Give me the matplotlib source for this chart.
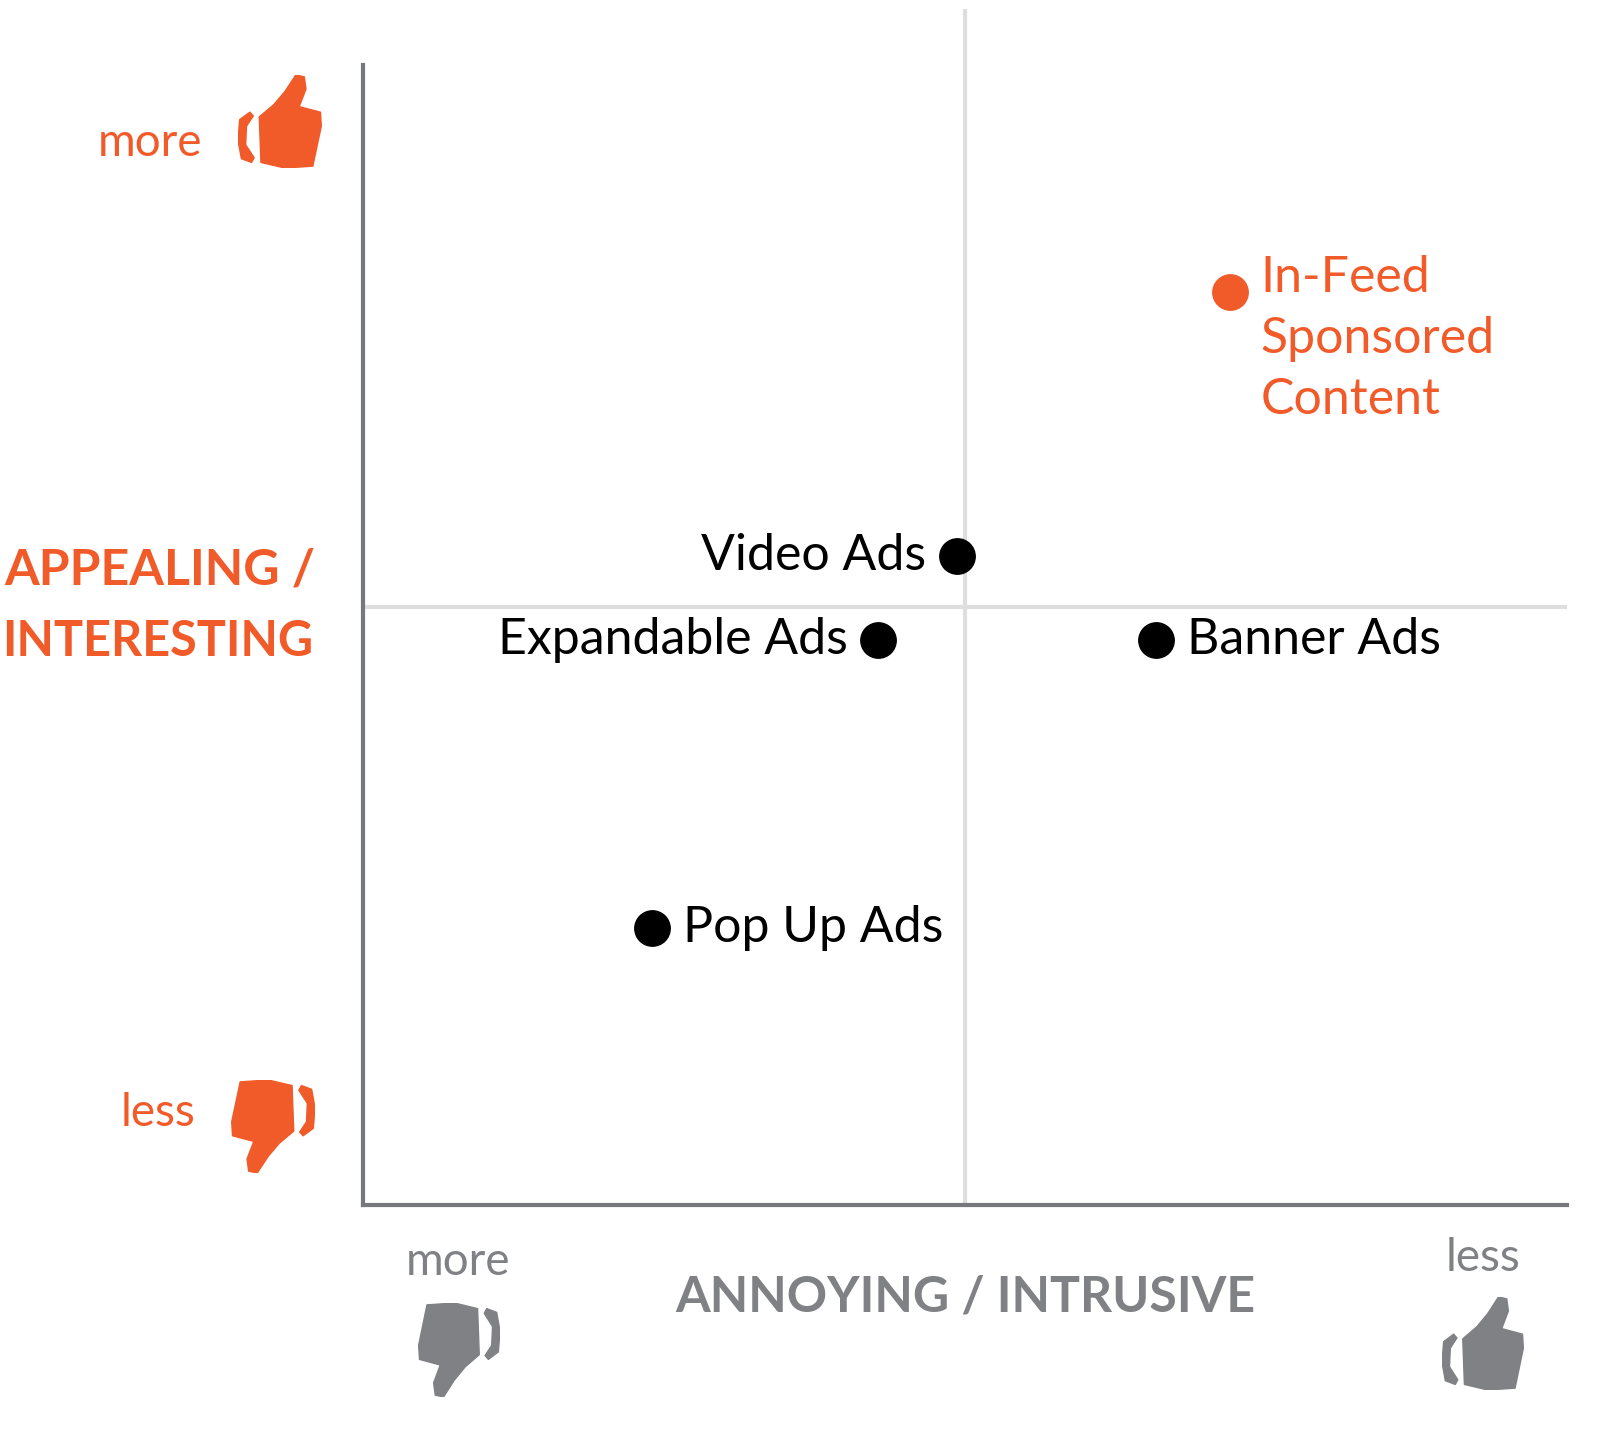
import matplotlib
matplotlib.use("Agg")
import matplotlib.pyplot as plt
from matplotlib.patches import Polygon
import numpy as np

ORANGE = "#F15A29"
GRAY = "#808184"
W, H = 1613, 1439

# scores: x = less annoying to the right, y = more appealing upward
names = ["Video Ads", "Expandable Ads", "Banner Ads", "Pop Up Ads", "In-Feed\nSponsored\nContent"]
annoy = [4.93, 4.28, 6.59, 2.40, 7.20]
appeal = [5.43, 4.72, 4.72, 2.32, 7.63]
label_side = ["left", "left", "right", "right", "right"]
colors = ["black", "black", "black", "black", ORANGE]

plt.rcParams["font.family"] = ["Lato", "DejaVu Sans"]
fig = plt.figure(figsize=(W / 100, H / 100), dpi=100)


def fx(px):
    return px / W


def fy(py):
    return 1 - py / H


ax = fig.add_axes([fx(363), fy(1205), fx(1567) - fx(363), fy(9) - fy(1205)])
ax.set_xlim(0, 10)
ax.set_ylim(0, 10)
for s in ax.spines.values():
    s.set_visible(False)
ax.set_xticks([])
ax.set_yticks([])
ax.axvline(5, color="#dedede", lw=3, zorder=0)
ax.axhline(5, color="#dedede", lw=3, zorder=0)
ax.plot([0, 0], [0, 9.53], color="#77787b", lw=3, clip_on=False)
ax.plot([0, 10], [0, 0], color="#77787b", lw=3, clip_on=False)

for n, x, y, side, c in zip(names, annoy, appeal, label_side, colors):
    ax.scatter(x, y, s=650, color=c, zorder=3)
    if side == "left":
        ax.annotate(n, (x, y), xytext=(-22, 0), textcoords="offset points",
                    ha="right", va="center", fontsize=36, color=c)
    elif "\n" in n:
        ax.annotate(n, (x, y), xytext=(22, 27), textcoords="offset points",
                    ha="left", va="top", fontsize=36, color=c, linespacing=1.4)
    else:
        ax.annotate(n, (x, y), xytext=(22, 0), textcoords="offset points",
                    ha="left", va="center", fontsize=36, color=c)


def thumb(x0, y0, x1, y1, color, down=False):
    a = fig.add_axes([fx(x0), fy(y1), fx(x1) - fx(x0), fy(y0) - fy(y1)])
    a.set_xlim(0, 1)
    a.set_ylim(0, 1)
    a.axis("off")
    hand = np.array([(0.27, 0.06), (0.25, 0.55), (0.42, 0.68), (0.55, 0.82),
                     (0.68, 1.0), (0.78, 0.98), (0.80, 0.85), (0.72, 0.66),
                     (0.97, 0.60), (0.98, 0.45), (0.88, 0.02), (0.55, 0.0)])
    cuff = np.array([(0.16, 0.06), (0.04, 0.10), (0.0, 0.3), (0.02, 0.52),
                     (0.14, 0.60), (0.18, 0.56), (0.10, 0.45), (0.09, 0.25),
                     (0.19, 0.11)])
    for pts in (hand, cuff):
        if down:
            pts = 1 - pts
        a.add_patch(Polygon(pts, closed=True, color=color, joinstyle="round"))


thumb(238, 75, 323, 168, ORANGE)
thumb(230, 1080, 315, 1173, ORANGE, down=True)
thumb(417, 1303, 500, 1397, GRAY, down=True)
thumb(1442, 1297, 1525, 1390, GRAY)

fig.text(fx(150), fy(143), "more", color=ORANGE, fontsize=33, ha="center", va="center")
fig.text(fx(158), fy(1113), "less", color=ORANGE, fontsize=33, ha="center", va="center")
fig.text(fx(160), fy(570), "APPEALING /", color=ORANGE, fontsize=36, weight="bold",
         ha="center", va="center")
fig.text(fx(158), fy(642), "INTERESTING", color=ORANGE, fontsize=35, weight="bold",
         ha="center", va="center")
fig.text(fx(458), fy(1262), "more", color=GRAY, fontsize=33, ha="center", va="center")
fig.text(fx(1483), fy(1258), "less", color=GRAY, fontsize=33, ha="center", va="center")
fig.text(fx(965), fy(1297), "ANNOYING / INTRUSIVE", color=GRAY, fontsize=36,
         weight="bold", ha="center", va="center")

fig.savefig("out.png", dpi=100)
